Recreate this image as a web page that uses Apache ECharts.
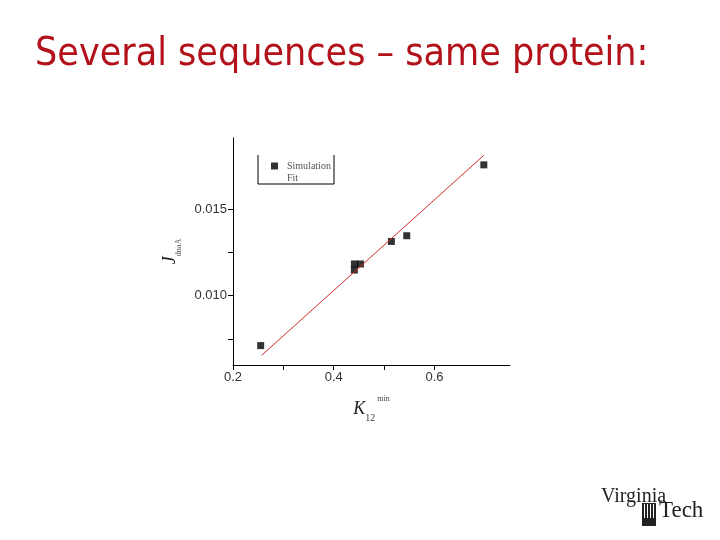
<!DOCTYPE html>
<html>
<head>
<meta charset="utf-8">
<script src="https://cdn.jsdelivr.net/npm/echarts@6/dist/echarts.min.js"></script>
<style>html,body{margin:0;padding:0;background:#fff;}#c{width:720px;height:540px;}</style>
</head>
<body>
<div id="c"></div>
<script>
// Data
const simX = [0.255, 0.441, 0.441, 0.453, 0.5145, 0.545, 0.698];
const simY = [0.00712, 0.01183, 0.01148, 0.01183, 0.01313, 0.01346, 0.01755];
const fitX = [0.257, 0.698];
const fitY = [0.00656, 0.0181];
const xTickValues = [0.2, 0.3, 0.4, 0.5, 0.6];
const xLabelValues = [0.2, 0.4, 0.6];
const yTickValues = [0.0075, 0.010, 0.0125, 0.015];
const yLabelValues = [0.010, 0.015];
const titleText = 'Several sequences \u2013 same protein:';

const chart = echarts.init(document.getElementById('c'));
const serif = '"Liberation Serif", "DejaVu Serif", serif';
chart.setOption({
  backgroundColor: '#fff',
  animation: false,
  title: {
    text: titleText,
    left: 30, top: 30,
    textStyle: { fontFamily: '"DejaVu Sans Condensed", "DejaVu Sans", sans-serif', fontSize: 39, fontWeight: 'normal', color: '#b3121a' }
  },
  legend: {
    orient: 'vertical',
    left: 266, top: 156,
    itemWidth: 7, itemHeight: 7, itemGap: 2,
    textStyle: { fontFamily: serif, fontSize: 10, color: '#555', padding: [0, 0, 0, 4] },
    data: [
      { name: 'Simulation', icon: 'rect', itemStyle: { color: '#000' } },
      { name: 'Fit', icon: 'rect', itemStyle: { opacity: 0 } }
    ]
  },
  grid: { left: 233, top: 138, right: 210, bottom: 175 },
  xAxis: {
    type: 'value', min: 0.2, max: 0.75,
    axisLine: { show: true, lineStyle: { color: '#000', width: 1 } },
    axisTick: { show: true, customValues: xTickValues, length: 5, lineStyle: { color: '#000' } },
    axisLabel: { customValues: xLabelValues, formatter: v => v.toFixed(1), fontFamily: '"Liberation Sans", Arial, sans-serif', fontSize: 13, color: '#333', margin: 6 },
    splitLine: { show: false },
    name: '{k|K}{s|12}{p|min}',
    nameLocation: 'middle', nameGap: 30,
    nameTextStyle: {
      rich: {
        k: { fontFamily: serif, fontStyle: 'italic', fontSize: 18, color: '#222', lineHeight: 28, verticalAlign: 'middle' },
        s: { fontFamily: serif, fontSize: 10, color: '#444', lineHeight: 10, verticalAlign: 'bottom' },
        p: { fontFamily: serif, fontSize: 8, color: '#444', lineHeight: 8, verticalAlign: 'top', padding: [0, 0, 0, 2] }
      }
    }
  },
  yAxis: {
    type: 'value', min: 0.006, max: 0.0191,
    axisLine: { show: true, lineStyle: { color: '#000', width: 1 } },
    axisTick: { show: true, customValues: yTickValues, length: 5, lineStyle: { color: '#000' } },
    axisLabel: { customValues: yLabelValues, formatter: v => v.toFixed(3), fontFamily: '"Liberation Sans", Arial, sans-serif', fontSize: 13, color: '#333', margin: 6 },
    splitLine: { show: false },
    name: '{j|J}{s|dnaA}',
    nameLocation: 'middle', nameGap: 50, nameRotate: 90,
    nameTextStyle: {
      rich: {
        j: { fontFamily: serif, fontStyle: 'italic', fontSize: 18, color: '#222', lineHeight: 26, verticalAlign: 'middle' },
        s: { fontFamily: serif, fontSize: 8, color: '#555', lineHeight: 8, verticalAlign: 'bottom' }
      }
    }
  },
  series: [
    {
      name: 'Simulation', type: 'scatter', symbol: 'rect', symbolSize: 7,
      itemStyle: { color: '#000' },
      data: simX.map((x, i) => [x, simY[i]])
    },
    {
      name: 'Fit', type: 'line', symbol: 'none',
      lineStyle: { color: '#d02a2a', width: 1 },
      data: fitX.map((x, i) => [x, fitY[i]])
    }
  ],
  graphic: [
    { type: 'polyline', shape: { points: [[258, 155], [258, 184], [334, 184], [334, 155]] }, style: { stroke: '#000', fill: null, lineWidth: 1 } },
    { type: 'text', left: 601, top: 487, style: { text: 'Virginia', font: '20px "Liberation Serif", serif', fill: '#222' } },
    { type: 'text', left: 659, top: 499, style: { text: 'Tech', font: '23px "Liberation Serif", serif', fill: '#222' } },
    { type: 'rect', shape: { x: 642, y: 503, width: 14, height: 23 }, style: { fill: '#222' } },
    { type: 'rect', shape: { x: 644, y: 504, width: 1, height: 14 }, style: { fill: '#fff' } },
    { type: 'rect', shape: { x: 647, y: 504, width: 1, height: 14 }, style: { fill: '#fff' } },
    { type: 'rect', shape: { x: 650, y: 504, width: 1, height: 14 }, style: { fill: '#fff' } },
    { type: 'rect', shape: { x: 653, y: 504, width: 1, height: 14 }, style: { fill: '#fff' } }
  ]
});
</script>
</body>
</html>
